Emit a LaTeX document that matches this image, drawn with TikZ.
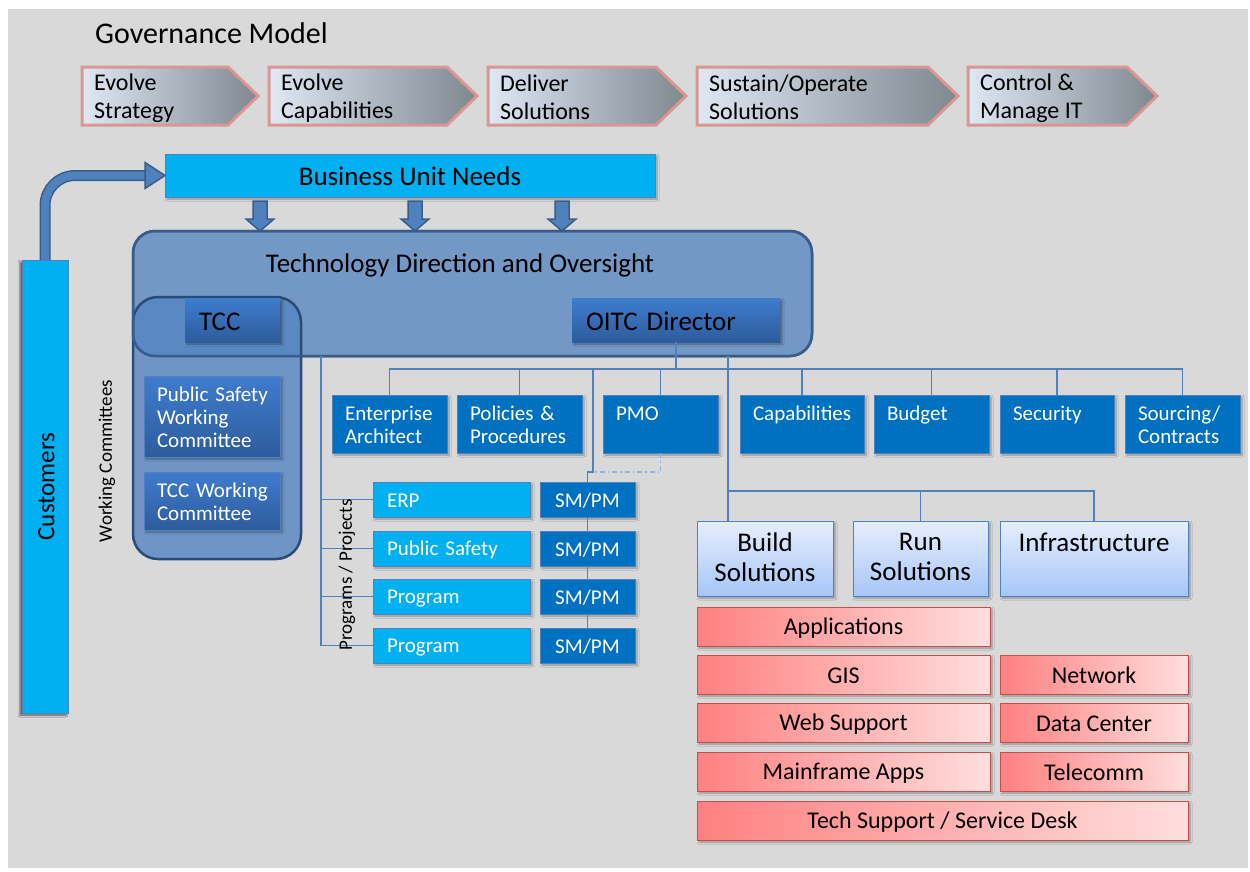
\documentclass[tikz,border=0pt]{standalone}
\usepackage{fontspec}
\setmainfont{Carlito}
\usetikzlibrary{arrows.meta, positioning, shadows.blur}

\definecolor{bggray}{HTML}{D9D9D9}
\definecolor{skyblue}{HTML}{00B0F0}
\definecolor{deepblue}{HTML}{0070C0}
\definecolor{linkblue}{HTML}{4F81BD}
\definecolor{darkline}{HTML}{385D8A}
\definecolor{tdofill}{HTML}{7398C6}
\definecolor{wcfill}{HTML}{5484C1}
\definecolor{wcline}{HTML}{2A4A78}
\definecolor{chevleft}{HTML}{DFE8F3}
\definecolor{chevright}{HTML}{7F878F}
\definecolor{chevborder}{HTML}{D99694}
\definecolor{headtop}{HTML}{3F7CCE}
\definecolor{headbot}{HTML}{2D5C9C}
\definecolor{soltop}{HTML}{E6EEFC}
\definecolor{solbot}{HTML}{A6C6F8}
\definecolor{redleft}{HTML}{FF8080}
\definecolor{redright}{HTML}{FFDEDE}
\definecolor{redline}{HTML}{C0504D}
\definecolor{dashblue}{HTML}{8EB4E3}

% strut that keeps the capitals centred in a box
\newcommand{\boxstrut}{\rule[-0.1em]{0pt}{0.95em}}

\begin{document}
\begin{tikzpicture}[
x=1pt, y=-1pt,
box/.style={inner sep=0pt, outer sep=0pt,
  execute at begin node=\boxstrut, execute at end node=\boxstrut},
drop/.style={blur shadow={shadow xshift=2pt, shadow yshift=-2pt,
  shadow blur radius=2pt, shadow opacity=35}},
chevron/.style={draw=chevborder, line width=3pt,
  left color=chevleft, right color=chevright},
chevtext/.style={anchor=west, align=left, inner sep=0pt,
  font=\fontsize{24}{28}\selectfont,
  execute at begin node=\boxstrut, execute at end node=\boxstrut},
needs/.style={box, drop, draw=linkblue, fill=skyblue,
  font=\fontsize{27}{32}\selectfont},
bigbox/.style={draw=darkline, line width=2.5pt, fill=tdofill,
  rounded corners=22pt, inner sep=0pt, outer sep=0pt},
wcbox/.style={draw=wcline, line width=2.5pt, fill=wcfill, fill opacity=0.8,
  rounded corners=25pt, inner sep=0pt, outer sep=0pt},
headbox/.style={box, drop, top color=headtop, bottom color=headbot,
  minimum height=44pt, align=left, font=\fontsize{27}{32}\selectfont},
wcitem/.style={box, drop, top color=headtop, bottom color=headbot,
  draw=linkblue, text=white, align=left, minimum width=136pt,
  text width=110pt, font=\fontsize{21}{23}\selectfont},
dept/.style={box, drop, fill=deepblue, draw=linkblue, text=white,
  align=left, minimum height=58pt, font=\fontsize{21}{23}\selectfont},
prog/.style={box, drop, fill=skyblue, draw=linkblue, text=white,
  align=left, minimum width=157pt, text width=129pt, minimum height=35pt,
  font=\fontsize{21}{23}\selectfont},
smpm/.style={box, drop, fill=deepblue, draw=linkblue, text=white,
  minimum width=95pt, minimum height=35pt, font=\fontsize{21}{23}\selectfont},
sol/.style={box, drop, top color=soltop, bottom color=solbot,
  draw=linkblue, minimum height=75pt, align=center,
  font=\fontsize{27}{30}\selectfont},
area/.style={box, drop, left color=redleft, right color=redright,
  draw=redline, minimum height=39pt, font=\fontsize{24}{29}\selectfont},
conn/.style={draw=linkblue, line width=1.5pt},
pmolink/.style={draw=dashblue, line width=1.5pt,
  dash pattern=on 5pt off 3pt on 1.5pt off 3pt},
shaft/.style={draw=darkline, line width=1.5pt, double=linkblue,
  double distance=8pt, rounded corners=30pt},
arrowhead/.style={draw=darkline, fill=linkblue, line width=1.5pt},
side/.style={rotate=90, inner sep=0pt, font=\fontsize{19}{23}\selectfont}
]

% page
\useasboundingbox (0,0) rectangle (1250,871);
\fill[white] (0,0) rectangle (1250,871);
\fill[bggray] (8,9) rectangle (1248,868);

\node[anchor=base west, inner sep=0pt, font=\fontsize{30}{36}\selectfont] (title) at (95,43) {Governance Model};

% phases
\foreach \x/\w/\t [count=\i] in {82/176/{Evolve\\Strategy}, 269/208/{Evolve\\Capabilities}, 488/198/{Deliver\\Solutions}, 697/261/{Sustain/Operate\\Solutions}, 968/189/{Control \&\\Manage IT}} {
  \draw[chevron] (\x,67) -- (\x+\w-30,67) -- (\x+\w,96) -- (\x+\w-30,125) -- (\x,125) -- cycle;
  \node[chevtext] (phase\i) at (\x+12,98.5) {\t};
}

% needs and customers
\node[needs, minimum width=490pt, minimum height=43pt] (needs) at (410,175.5) {Business Unit Needs};
\node[needs, rotate=90, minimum width=453pt, minimum height=46pt,
  blur shadow={shadow xshift=-2pt, shadow yshift=-2pt, shadow blur radius=2pt, shadow opacity=35},
  font=\fontsize{25}{30}\selectfont] (cust) at (45,486.5) {Customers};

\coordinate (arrowbase) at ([xshift=-20pt]needs.west);
\draw[shaft] (cust.east) |- (arrowbase);
\filldraw[arrowhead] ([yshift=13pt]arrowbase) -- (needs.west) -- ([yshift=-13pt]arrowbase) -- cycle;

\foreach \dx in {-150,5,152}
  \filldraw[arrowhead] ([xshift=\dx pt]needs.south) ++(-7,4) -- ++(14,0) -- ++(0,18) -- ++(7,0) -- ++(-14,12) -- ++(-14,-12) -- ++(7,0) -- cycle;

% direction and oversight
\node[bigbox, minimum width=679pt, minimum height=125pt, anchor=north west] (tdo) at (133,231) {};
\node[anchor=base, inner sep=0pt, font=\fontsize{27}{32}\selectfont] (tdotitle) at (460,272) {Technology Direction and Oversight};
\node[wcbox, minimum width=168pt, minimum height=262pt, anchor=north west] (wc) at (133,297) {};
\draw[darkline, line width=2.5pt, rounded corners=22pt] (tdo.north west) rectangle (tdo.south east);

\node[headbox, minimum width=95pt, text width=67pt, anchor=north west] (tcc) at (185,298) {TCC};
\node[headbox, minimum width=208pt, text width=180pt, anchor=north west] (oitc) at (572,298) {OITC Director};

\node[wcitem, minimum height=81pt, anchor=north west] (pswc) at (144,376) {\mbox{Public Safety}\\Working\\Committee};
\node[wcitem, minimum height=58pt, below=15pt of pswc] (tccwc) {\mbox{TCC Working}\\Committee};
\node[side] (wclabel) at (107,461) {Working Committees};

% departments
\node[dept, minimum width=115pt, text width=89pt, anchor=north west] (ea) at (332,395) {Enterprise\\Architect};
\node[dept, minimum width=125pt, text width=99pt, right=10pt of ea] (pp) {Policies~\&\\Procedures};
\node[dept, minimum width=115pt, text width=89pt, right=21pt of pp] (pmo) {PMO\\~};
\node[dept, minimum width=124pt, text width=98pt, right=22pt of pmo] (cap) {Capabilities\\~};
\node[dept, minimum width=115pt, text width=89pt, right=10pt of cap] (bud) {Budget\\~};
\node[dept, minimum width=114pt, text width=88pt, right=11pt of bud] (sec) {Security\\~};
\node[dept, minimum width=115pt, text width=89pt, right=11pt of sec] (src) {Sourcing/\\Contracts};

% programs
\node[prog, anchor=north west] (erp) at (373,482) {ERP};
\node[prog, below=14pt of erp] (pubs) {Public Safety};
\node[prog, below=13pt of pubs] (prog1) {Program};
\node[prog, below=14pt of prog1] (prog2) {Program};
\node[smpm, right=10pt of erp] (sm1) {SM/PM};
\node[smpm, right=10pt of pubs] (sm2) {SM/PM};
\node[smpm, right=10pt of prog1] (sm3) {SM/PM};
\node[smpm, right=10pt of prog2] (sm4) {SM/PM};

% solutions
\node[sol, minimum width=136pt, anchor=north west] (build) at (697,521) {Build\\Solutions};
\node[sol, minimum width=135pt, right=20pt of build] (run) {Run\\Solutions};
\node[sol, minimum width=188pt, right=12pt of run] (infra) {Infrastructure\\~};

\node[area, minimum width=293pt, anchor=north west] (apps) at (697,607) {Applications};
\node[area, minimum width=293pt, below=9pt of apps] (gis) {GIS};
\node[area, minimum width=293pt, below=9pt of gis] (web) {Web Support};
\node[area, minimum width=293pt, below=10pt of web] (mfa) {Mainframe Apps};
\node[area, minimum width=491pt, below=10pt of mfa.south west, anchor=north west] (desk) {Tech Support / Service Desk};
\node[area, minimum width=188pt, right=10pt of gis] (net) {Network};
\node[area, minimum width=188pt, right=10pt of web] (dc) {Data Center};
\node[area, minimum width=188pt, right=10pt of mfa] (tel) {Telecomm};

% connectors
\draw[conn] (oitc.south) -- ++(0,27) coordinate (bus);
\foreach \n in {ea,pp,pmo,cap,bud,sec,src}
  \draw[conn] (bus) -| (\n.north);

\coordinate (pmtap) at (593,369);
\coordinate (pmjog) at (593,472);
\draw[conn] (pmtap) -- (pmjog) -| (sm1.north);
\draw[pmolink] (pmo.south) |- (pmjog);
\draw[conn] (sm1) -- (sm2) -- (sm3) -- (sm4);

\coordinate (progtap) at (321,356);
\foreach \n in {erp,pubs,prog1,prog2}
  \draw[conn] (progtap) |- (\n.west);
\node[side] (pplabel) at (347,575) {Programs / Projects};

\coordinate (soltap) at (728,356);
\coordinate (solbus) at (728,491);
\draw[conn] (soltap) -- (soltap |- build.north);
\draw[conn] (solbus) -| (run.north);
\draw[conn] (solbus) -| (infra.north);

\end{tikzpicture}
\end{document}
